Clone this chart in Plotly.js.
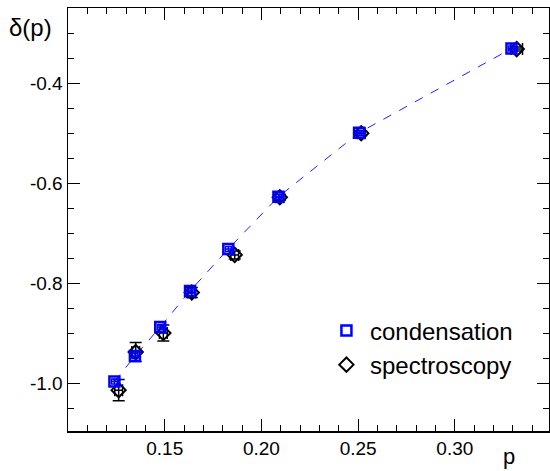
<!DOCTYPE html>
<html>
<head>
<meta charset="utf-8">
<script src="https://cdn.plot.ly/plotly-3.0.1.min.js"></script>
<style>html,body{margin:0;padding:0;background:#fff;}#chart{width:550px;height:471px;}</style>
</head>
<body>
<div id="chart"></div>
<script>
// condensation (blue squares)
var condP = [0.1240, 0.1346, 0.1477, 0.1631, 0.1829, 0.2088, 0.2505, 0.3293];
var condD = [-0.996, -0.945, -0.887, -0.815, -0.731, -0.627, -0.499, -0.331];
var condErrP = [0.0015, 0.0015, 0.0015, 0.0015, 0.0015, 0.0015, 0.0015, 0.0015];
var condErrD = [0.005, 0.005, 0.005, 0.005, 0.005, 0.005, 0.005, 0.005];
// spectroscopy (black diamonds)
var specP = [0.1262, 0.1350, 0.1493, 0.1640, 0.1862, 0.2095, 0.2516, 0.3320];
var specD = [-1.013, -0.937, -0.899, -0.818, -0.743, -0.628, -0.500, -0.332];
var specErrP = [0.002, 0.002, 0.002, 0.002, 0.002, 0.002, 0.002, 0.003];
var specErrD = [0.021, 0.019, 0.016, 0.010, 0.008, 0.006, 0.005, 0.004];
var xTicks = [0.15, 0.20, 0.25, 0.30];
var xTickText = ['0.15', '0.20', '0.25', '0.30'];
var yTicks = [-1.0, -0.8, -0.6, -0.4];
var yTickText = ['-1.0', '-0.8', '-0.6', '-0.4'];

var font = 'Liberation Sans, Arial, sans-serif';

var traces = [
  {
    x: condP, y: condD, mode: 'lines', showlegend: false, hoverinfo: 'skip',
    line: {color: '#2020ff', width: 1, dash: 'dash'}
  },
  {
    x: specP, y: specD, mode: 'markers', name: 'spectroscopy',
    marker: {symbol: 'diamond-open', size: 11, color: '#000', line: {color: '#000', width: 2}},
    error_y: {type: 'data', array: specErrD, color: '#000', thickness: 1.5, width: 6},
    error_x: {type: 'data', array: specErrP, color: '#000', thickness: 1.5, width: 6}
  },
  {
    x: condP, y: condD, mode: 'markers', name: 'condensation',
    marker: {symbol: 'square-open', size: 10, color: '#0000ff', line: {color: '#0000ff', width: 2.5}},
    error_y: {type: 'data', array: condErrD, color: '#0000ff', thickness: 1.5, width: 3},
    error_x: {type: 'data', array: condErrP, color: '#0000ff', thickness: 1.5, width: 3}
  }
];

var axisCommon = {
  showgrid: false, zeroline: false, showline: true, linecolor: '#000', linewidth: 1.5,
  mirror: 'ticks', ticks: 'inside', ticklen: 12, tickwidth: 1, tickcolor: '#000',
  tickfont: {family: font, size: 19, color: '#000'}
};

var layout = {
  width: 550, height: 471,
  margin: {l: 68, r: 1, t: 8, b: 40},
  paper_bgcolor: '#fff', plot_bgcolor: '#fff',
  showlegend: true,
  legend: {
    x: 0.53, y: 0.29, xanchor: 'left', yanchor: 'top',
    font: {family: font, size: 24, color: '#000'},
    itemwidth: 37,
    bgcolor: 'rgba(0,0,0,0)', traceorder: 'reversed', tracegroupgap: 0
  },
  xaxis: Object.assign({}, axisCommon, {
    range: [0.10, 0.3487], tickmode: 'array', tickvals: xTicks, ticktext: xTickText,
    minor: {dtick: 0.01, tick0: 0.10, ticks: 'inside', ticklen: 6, tickcolor: '#000', tickwidth: 1, showgrid: false}
  }),
  yaxis: Object.assign({}, axisCommon, {
    range: [-1.0946, -0.25], tickmode: 'array', tickvals: yTicks, ticktext: yTickText,
    minor: {dtick: 0.05, tick0: -1.0, ticks: 'inside', ticklen: 6, tickcolor: '#000', tickwidth: 1, showgrid: false}
  }),
  annotations: [
    {text: 'δ(p)', xref: 'paper', yref: 'paper', x: -0.077, y: 0.955, xanchor: 'center', yanchor: 'middle',
     showarrow: false, font: {family: font, size: 24, color: '#000'}},
    {text: 'p', xref: 'paper', yref: 'paper', x: 0.917, y: -0.06, xanchor: 'center', yanchor: 'middle',
     showarrow: false, font: {family: font, size: 22, color: '#000'}}
  ]
};

Plotly.newPlot('chart', traces, layout, {displayModeBar: false, staticPlot: true});
</script>
</body>
</html>
